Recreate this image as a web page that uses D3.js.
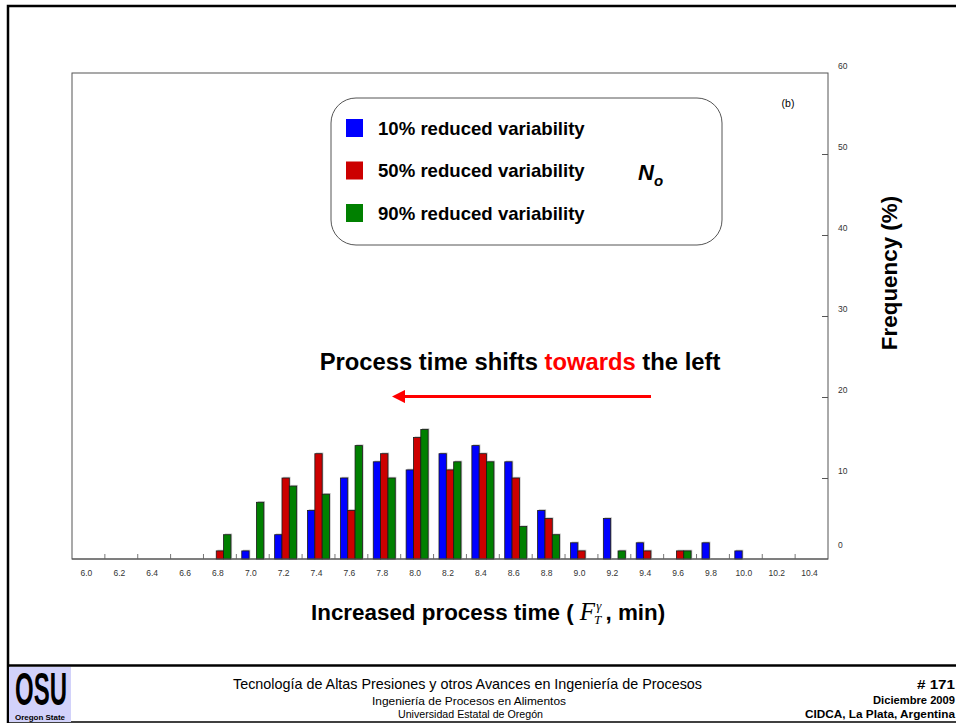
<!DOCTYPE html>
<html>
<head>
<meta charset="utf-8">
<script src="https://cdn.jsdelivr.net/npm/d3@7"></script>
<style>
  html, body { margin: 0; padding: 0; background: #fff; }
  svg { display: block; }
</style>
</head>
<body>
<svg id="chart" width="956" height="723"></svg>
<script>
// Process-time categories (min)
const categories = ["6.0","6.2","6.4","6.6","6.8","7.0","7.2","7.4","7.6","7.8","8.0","8.2",
                    "8.4","8.6","8.8","9.0","9.2","9.4","9.6","9.8","10.0","10.2","10.4"];
// Frequency (%) for each variability reduction
const reduced10 = [0,0,0,0,0,1,3,6,10,12,11,13,14,12,6,2,5,2,0,2,1,0,0];
const reduced50 = [0,0,0,0,1,0,10,13,6,13,15,11,13,10,5,1,0,1,1,0,0,0,0];
const reduced90 = [0,0,0,0,3,7,9,8,14,10,16,12,12,4,3,0,1,0,1,0,0,0,0];
const seriesNames = ["10% reduced variability","50% reduced variability","90% reduced variability"];
const seriesColors = ["#0000ff","#cc0000","#008000"];
const yTicks = [0,10,20,30,40,50,60];

const svg = d3.select("#chart");
const W = 956, H = 723;
const plot = {left: 72, right: 828, top: 73, bottom: 559};
const sans = "Liberation Sans, Arial, sans-serif";
const serif = "Liberation Serif, Times New Roman, serif";
const narrow = "Liberation Sans Narrow, Liberation Sans, Arial, sans-serif";

svg.append("rect").attr("width", W).attr("height", H).attr("fill", "#fff");

// slide frame and footer separator
svg.append("path")
  .attr("d", `M8,${H} V6 H${W}`)
  .attr("fill", "none").attr("stroke", "#000").attr("stroke-width", 2.5);
svg.append("line").attr("x1", 8).attr("x2", W).attr("y1", 665.5).attr("y2", 665.5)
  .attr("stroke", "#000").attr("stroke-width", 2.5);
svg.append("line").attr("x1", 8).attr("x2", W).attr("y1", 722).attr("y2", 722)
  .attr("stroke", "#000").attr("stroke-width", 1.5);

// scales
const x = d3.scaleBand().domain(categories).range([plot.left, plot.right]).padding(0);
const xs = d3.scaleBand().domain(seriesNames).range([0, x.bandwidth()])
  .paddingInner(0).paddingOuter(0.74);
const y = d3.scaleLinear().domain([0, 60]).range([plot.bottom, plot.top]);

// plot frame
svg.append("rect")
  .attr("x", plot.left).attr("y", plot.top)
  .attr("width", plot.right - plot.left).attr("height", plot.bottom - plot.top)
  .attr("fill", "none").attr("stroke", "#555").attr("stroke-width", 1);

// bars (with a light drop shadow)
const rows = categories.map((c, i) => ({cat: c, vals: [reduced10[i], reduced50[i], reduced90[i]]}));
const groups = svg.append("g").selectAll("g").data(rows).join("g")
  .attr("transform", d => `translate(${x(d.cat)},0)`);
const cells = groups.selectAll("g").data(d => d.vals.map((v, k) => ({v, k}))).join("g")
  .filter(d => d.v > 0);
cells.append("rect")
  .attr("x", d => xs(seriesNames[d.k]) + 1.2)
  .attr("y", d => y(d.v) - 1.2)
  .attr("width", xs.bandwidth())
  .attr("height", d => y(0) - y(d.v) + 1.2)
  .attr("fill", "#c4c4c4");
cells.append("rect")
  .attr("x", d => xs(seriesNames[d.k]))
  .attr("y", d => y(d.v))
  .attr("width", xs.bandwidth())
  .attr("height", d => y(0) - y(d.v))
  .attr("fill", d => seriesColors[d.k])
  .attr("stroke", "#1a1a1a").attr("stroke-width", 0.8);

// x axis: ticks at band edges, labels below
svg.append("g").selectAll("line").data(categories.slice(1)).join("line")
  .attr("x1", d => x(d)).attr("x2", d => x(d))
  .attr("y1", plot.bottom - 5).attr("y2", plot.bottom)
  .attr("stroke", "#777").attr("stroke-width", 1);
svg.append("line").attr("x1", plot.left).attr("x2", plot.right)
  .attr("y1", plot.bottom).attr("y2", plot.bottom).attr("stroke", "#555");

const xAxis = svg.append("g").attr("transform", `translate(-2,${plot.bottom})`)
  .call(d3.axisBottom(x).tickSize(0).tickPadding(11));
xAxis.select(".domain").remove();
xAxis.selectAll("text").attr("font-family", sans)
  .attr("font-size", 8.5).attr("fill", "#333");

// y axis on the right
const yAxis = svg.append("g").attr("transform", `translate(${plot.right},0)`)
  .call(d3.axisLeft(y).tickValues(yTicks.slice(1, -1)).tickSize(6).tickFormat(""));
yAxis.select(".domain").remove();
yAxis.selectAll("line").attr("stroke", "#555");
svg.append("g").selectAll("text").data(yTicks).join("text")
  .attr("x", 838)
  .attr("y", d => y(d) - (d === 0 ? 11 : 4))
  .attr("font-family", sans)
  .attr("font-size", 8.5).attr("fill", "#333")
  .text(d => d);

// axis titles
svg.append("text")
  .attr("transform", "translate(897,273) rotate(-90)")
  .attr("text-anchor", "middle")
  .attr("font-family", sans)
  .attr("font-weight", "bold").attr("font-size", 22.4)
  .text("Frequency (%)");

const xt = svg.append("text")
  .attr("x", 311).attr("y", 620)
  .attr("font-family", sans)
  .attr("font-weight", "bold").attr("font-size", 22.4);
xt.append("tspan").text("Increased process time ( ");
xt.append("tspan").attr("font-family", serif)
  .attr("font-style", "italic").attr("font-weight", "normal").attr("font-size", 25).text("F");
xt.append("tspan").attr("font-family", serif)
  .attr("font-style", "italic").attr("font-weight", "normal").attr("font-size", 13)
  .attr("dy", 4).attr("dx", -1).text("T");
xt.append("tspan").attr("font-family", serif)
  .attr("font-style", "italic").attr("font-weight", "normal").attr("font-size", 13)
  .attr("dy", -14).attr("dx", -5).text("γ");
xt.append("tspan").attr("dy", 10).attr("dx", 4).text(", min)");

// panel tag
svg.append("text").attr("x", 788).attr("y", 107).attr("text-anchor", "middle")
  .attr("font-family", sans).attr("font-size", 10.5)
  .text("(b)");

// legend
svg.append("rect").attr("x", 331).attr("y", 98).attr("width", 391).attr("height", 147)
  .attr("rx", 25).attr("ry", 25)
  .attr("fill", "#fff").attr("stroke", "#555").attr("stroke-width", 1);
const leg = svg.append("g").selectAll("g").data(seriesNames).join("g")
  .attr("transform", (d, i) => `translate(346,${119 + i * 42.5})`);
leg.append("rect").attr("width", 17).attr("height", 18)
  .attr("fill", (d, i) => seriesColors[i]);
leg.append("text").attr("x", 32).attr("y", 15.5)
  .attr("font-family", sans)
  .attr("font-weight", "bold").attr("font-size", 18.6).text(d => d);

const no = svg.append("text").attr("x", 638).attr("y", 180)
  .attr("font-family", sans)
  .attr("font-weight", "bold").attr("font-style", "italic").attr("font-size", 22);
no.append("tspan").text("N");
no.append("tspan").attr("font-size", 15).attr("dy", 6).text("o");

// annotation
const ann = svg.append("text").attr("x", 520).attr("y", 370).attr("text-anchor", "middle")
  .attr("font-family", sans)
  .attr("font-weight", "bold").attr("font-size", 23.8);
ann.append("tspan").text("Process time shifts ");
ann.append("tspan").attr("fill", "#ff0000").text("towards");
ann.append("tspan").text(" the left");

svg.append("defs").append("marker")
  .attr("id", "arrowhead").attr("viewBox", "0 0 10 10")
  .attr("refX", 1).attr("refY", 5)
  .attr("markerWidth", 4.5).attr("markerHeight", 4.5)
  .attr("orient", "auto-start-reverse")
  .append("path").attr("d", "M0,0 L10,5 L0,10 z").attr("fill", "#ff0000");
svg.append("line").attr("x1", 651).attr("x2", 404).attr("y1", 396.5).attr("y2", 396.5)
  .attr("stroke", "#ff0000").attr("stroke-width", 3)
  .attr("marker-end", "url(#arrowhead)");

// footer: logo
const logo = svg.append("g");
logo.append("rect").attr("x", 9).attr("y", 667).attr("width", 62).attr("height", 55).attr("fill", "#d2d2fa");
logo.append("text").attr("x", 15).attr("y", 705)
  .attr("font-family", narrow)
  .attr("font-weight", "bold").attr("font-size", 46)
  .attr("textLength", 52).attr("lengthAdjust", "spacingAndGlyphs").text("OSU");
logo.append("text").attr("x", 15).attr("y", 720)
  .attr("font-family", narrow)
  .attr("font-weight", "bold").attr("font-size", 7)
  .attr("textLength", 50).attr("lengthAdjust", "spacingAndGlyphs").text("Oregon State");

// footer: texts
const foot = svg.append("g").attr("font-family", narrow);
foot.append("text").attr("x", 233).attr("y", 689).attr("font-size", 15)
  .attr("textLength", 469).attr("lengthAdjust", "spacingAndGlyphs")
  .text("Tecnología de Altas Presiones y otros Avances en Ingeniería de Procesos");
foot.append("text").attr("x", 372).attr("y", 705).attr("font-size", 11)
  .attr("textLength", 194).attr("lengthAdjust", "spacingAndGlyphs")
  .text("Ingeniería de Procesos en Alimentos");
foot.append("text").attr("x", 398).attr("y", 718).attr("font-size", 11)
  .attr("textLength", 145).attr("lengthAdjust", "spacingAndGlyphs")
  .text("Universidad Estatal de Oregón");
foot.append("text").attr("x", 917).attr("y", 689).attr("font-size", 13).attr("font-weight", "bold")
  .attr("textLength", 38).attr("lengthAdjust", "spacingAndGlyphs").text("# 171");
foot.append("text").attr("x", 873).attr("y", 704).attr("font-size", 11).attr("font-weight", "bold")
  .attr("textLength", 82).attr("lengthAdjust", "spacingAndGlyphs").text("Diciembre 2009");
foot.append("text").attr("x", 805).attr("y", 718).attr("font-size", 11).attr("font-weight", "bold")
  .attr("textLength", 150).attr("lengthAdjust", "spacingAndGlyphs").text("CIDCA, La Plata, Argentina");
</script>
</body>
</html>
